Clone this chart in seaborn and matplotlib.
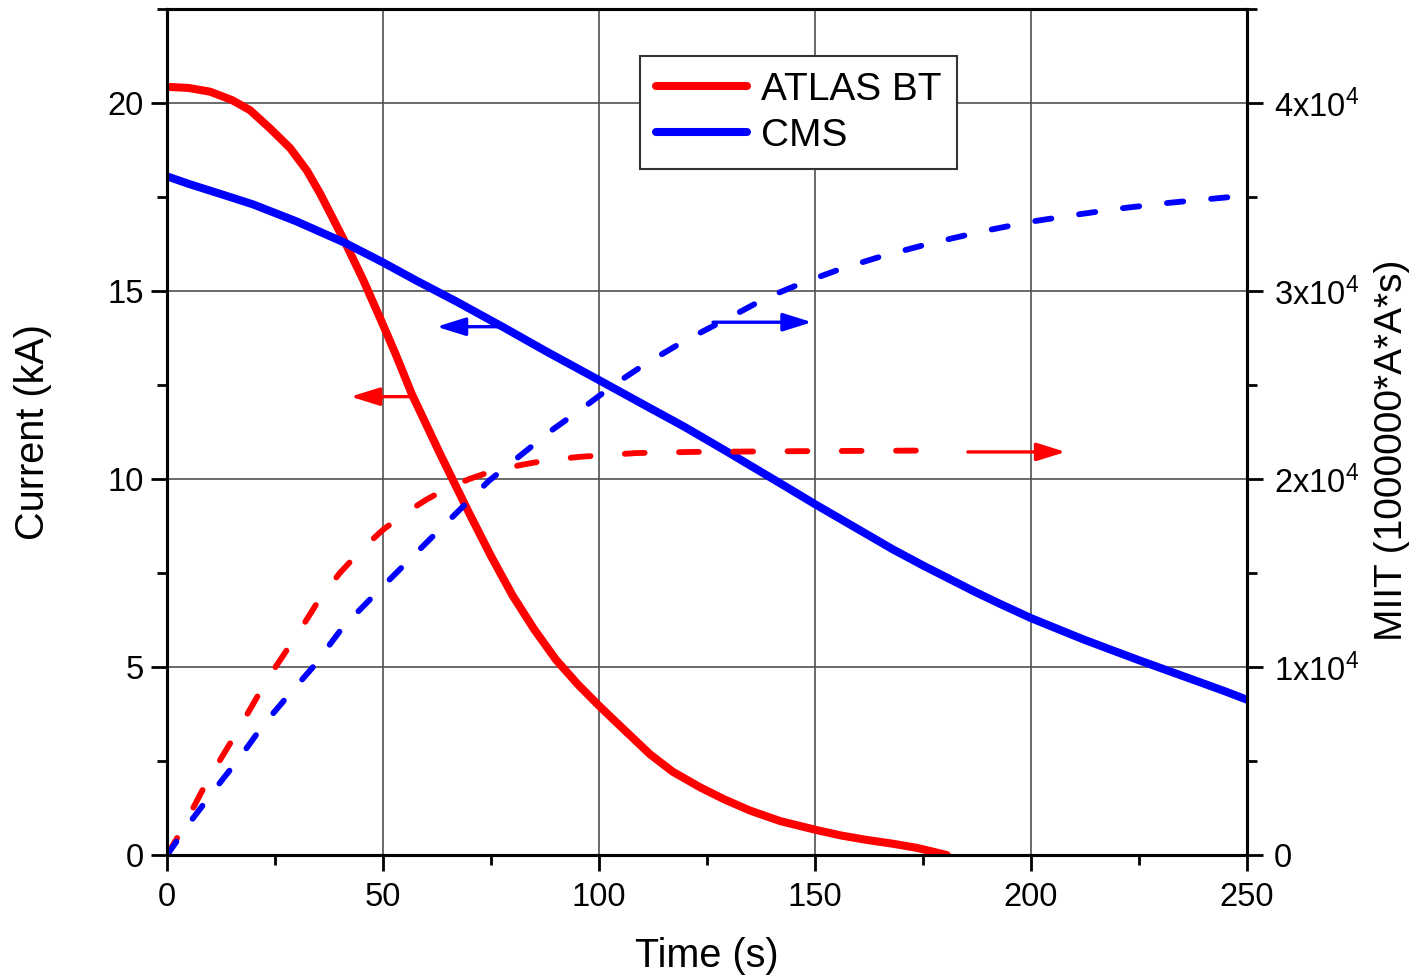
import matplotlib
matplotlib.use("Agg")
import matplotlib.pyplot as plt
from matplotlib.lines import Line2D
from matplotlib.ticker import MultipleLocator, FuncFormatter
import pandas as pd
import seaborn as sns

# ---- Current decay after the fast dump (kA) ----
atlas_t = [0, 5, 10, 15, 19.2, 23.8, 28.5, 32.4, 35.4, 38, 41.2, 45.4, 50, 53, 56.7, 60,
           63, 66.4, 70, 75, 80, 85, 90, 95, 100, 105, 111.8, 117, 123.4, 129, 135, 142,
           150.5, 156, 162, 168, 173.6, 180.5]
atlas_current = [20.43, 20.4, 20.3, 20.08, 19.81, 19.33, 18.8, 18.2, 17.6, 17.02, 16.3,
                 15.3, 14.1, 13.3, 12.25, 11.45, 10.72, 9.92, 9.08, 7.95, 6.9, 6.0, 5.2,
                 4.55, 3.97, 3.42, 2.68, 2.22, 1.8, 1.48, 1.18, 0.9, 0.66, 0.52, 0.4, 0.3,
                 0.19, 0.0]

cms_t = [0, 5, 14.6, 20, 30, 41.2, 50, 57.5, 67, 77.8, 88, 100, 110, 119.9, 129, 139.4,
         144.5, 150, 162, 168, 175, 187, 193, 200, 212, 218, 225, 232, 239, 245, 250]
cms_current = [18.05, 17.85, 17.5, 17.3, 16.85, 16.28, 15.76, 15.29, 14.72, 14.04, 13.38,
               12.63, 12.0, 11.38, 10.77, 10.06, 9.71, 9.33, 8.53, 8.13, 7.7, 7.0, 6.67,
               6.3, 5.74, 5.48, 5.18, 4.89, 4.6, 4.35, 4.13]

# ---- Integrated MIIT (1e6 A^2 s) ----
atlas_miit_t = [0, 3, 9.2, 16.2, 23.1, 30.8, 35, 40, 45, 50, 55, 60, 65, 70, 75, 81.8,
                88, 95.6, 108.6, 121.5, 145.8, 165, 180]
atlas_miit = [0, 1160, 3880, 6540, 9300, 11960, 13500, 15000, 16240, 17300, 18160, 18900,
              19520, 20000, 20400, 20740, 21000, 21180, 21380, 21440, 21480, 21500, 21520]

cms_miit_t = [0, 5.7, 11.5, 16.9, 22.3, 28.5, 33.8, 40.7, 50, 60, 74.5, 82.6, 89.1, 96.4,
              103.7, 111, 119.9, 130.3, 138.4, 147.4, 156.3, 165.6, 177.2, 189.3, 199.8,
              210.5, 221, 232.4, 245.3, 250]
cms_miit = [0, 1860, 3620, 5200, 6920, 8600, 10000, 12120, 14300, 16600, 19900, 21400,
            22600, 23800, 25050, 26160, 27360, 28600, 29600, 30460, 31200, 31860, 32560,
            33200, 33680, 34060, 34400, 34700, 34980, 35060]

series_names = ["ATLAS BT", "CMS"]
series_colors = ["#ff0000", "#0000ff"]

# Arrows telling which axis each curve belongs to: (t_start, t_end, level, color, axis)
axis_arrows = [
    (57.1, 42.5, 12.19, "#ff0000", "left"),
    (77.8, 62.4, 14.05, "#0000ff", "left"),
    (126.4, 149.3, 14.17 * 2000, "#0000ff", "right"),
    (185.4, 208.0, 10.72 * 2000, "#ff0000", "right"),
]

sns.set_theme(style="ticks")
plt.rcParams["font.family"] = ["Liberation Sans", "DejaVu Sans"]
plt.rcParams["mathtext.fontset"] = "custom"
plt.rcParams["mathtext.rm"] = "Liberation Sans"
plt.rcParams["text.color"] = "black"
plt.rcParams["axes.labelcolor"] = "black"

fig = plt.figure(figsize=(14.16, 9.77), dpi=100)
ax = fig.add_axes([167 / 1416, 1 - 855 / 977, 1080 / 1416, 846 / 977])
ax2 = ax.twinx()

solid_lw = 5.8
dash_lw = 4.2

df_atlas = pd.DataFrame({"t": atlas_t, "I": atlas_current})
df_cms = pd.DataFrame({"t": cms_t, "I": cms_current})
sns.lineplot(data=df_atlas, x="t", y="I", ax=ax, color=series_colors[0],
             linewidth=solid_lw, solid_capstyle="round", solid_joinstyle="round", zorder=3)
sns.lineplot(data=df_cms, x="t", y="I", ax=ax, color=series_colors[1],
             linewidth=solid_lw, solid_capstyle="round", solid_joinstyle="round", zorder=3)

df_atlas_m = pd.DataFrame({"t": atlas_miit_t, "M": atlas_miit})
df_cms_m = pd.DataFrame({"t": cms_miit_t, "M": cms_miit})
sns.lineplot(data=df_atlas_m, x="t", y="M", ax=ax2, color=series_colors[0],
             linewidth=dash_lw, linestyle=(0, (3.4, 5.9)), dash_capstyle="round")
sns.lineplot(data=df_cms_m, x="t", y="M", ax=ax2, color=series_colors[1],
             linewidth=dash_lw, linestyle=(0, (2.8, 4.8)), dash_capstyle="round")

# Axis ranges and ticks
ax.set_xlim(0, 250)
ax.set_ylim(0, 22.5)
ax2.set_ylim(0, 45000)
ax.xaxis.set_major_locator(MultipleLocator(50))
ax.xaxis.set_minor_locator(MultipleLocator(25))
ax.yaxis.set_major_locator(MultipleLocator(5))
ax.yaxis.set_minor_locator(MultipleLocator(2.5))
ax2.yaxis.set_major_locator(MultipleLocator(10000))
ax2.yaxis.set_minor_locator(MultipleLocator(5000))


def miit_fmt(v, pos):
    if v == 0:
        return "0"
    return r"$\mathregular{%dx10^{4}}$" % round(v / 10000)


ax2.yaxis.set_major_formatter(FuncFormatter(miit_fmt))

tick_kw = dict(direction="out", color="black", labelcolor="black", labelsize=23.5)
ax.tick_params(axis="both", which="major", length=11.5, width=2, **tick_kw)
ax.tick_params(axis="x", which="major", pad=8)
ax.tick_params(axis="y", which="major", pad=5)
ax.tick_params(axis="both", which="minor", length=7, width=2, **tick_kw)
ax.tick_params(top=False, right=False, which="both")
ax2.tick_params(axis="y", which="major", length=11.5, width=2, pad=8, **tick_kw)
ax2.tick_params(axis="y", which="minor", length=7, width=2, **tick_kw)

ax.grid(True, which="major", color="#505050", linewidth=1.2)
ax.set_axisbelow(True)
ax2.grid(False)

for a in (ax, ax2):
    for s in a.spines.values():
        s.set_visible(True)
        s.set_color("black")
        s.set_linewidth(2.2)

ax.set_xlabel("Time (s)", fontsize=28.5, color="black")
ax.set_ylabel("Current (kA)", fontsize=28.5, color="black")
ax2.set_ylabel("MIIT (1000000*A*A*s)", fontsize=28, color="black")
ax.xaxis.set_label_coords(0.5, -0.097)
ax.yaxis.set_label_coords(-0.1065, 0.5)
ax2.yaxis.set_label_coords(1.118, 0.478)

# Axis-pointer arrows
for t0, t1, level, col, side in axis_arrows:
    target = ax if side == "left" else ax2
    target.annotate("", xy=(t1, level), xytext=(t0, level),
                    arrowprops=dict(arrowstyle="-|>,head_length=0.8,head_width=0.25",
                                    color=col, lw=2.4, mutation_scale=22,
                                    shrinkA=0, shrinkB=0))

handles = [Line2D([0], [0], color=c, lw=solid_lw, solid_capstyle="round")
           for c in series_colors]
leg = ax2.legend(handles, series_names, loc="upper left", bbox_to_anchor=(0.438, 0.944),
                 borderaxespad=0, fontsize=28, frameon=True, fancybox=False,
                 handlelength=2.35, handletextpad=0.35, labelspacing=0.25,
                 borderpad=0.4, edgecolor="#333333", framealpha=1)
leg.get_frame().set_linewidth(1.5)
for txt in leg.get_texts():
    txt.set_color("black")

fig.savefig("out.png", dpi=100, facecolor="white")
